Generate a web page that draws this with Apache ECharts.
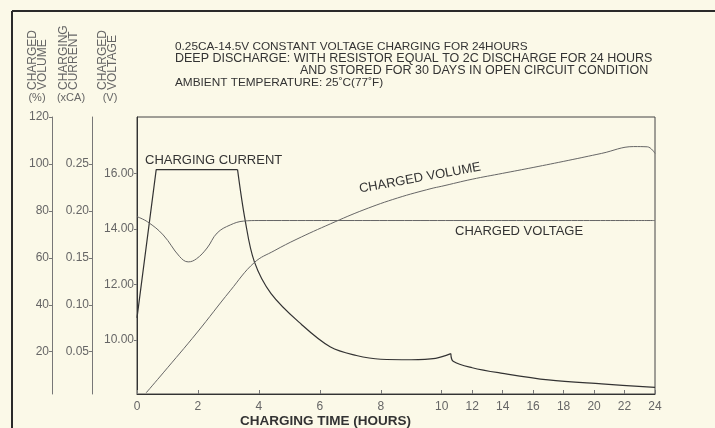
<!DOCTYPE html>
<html><head><meta charset="utf-8">
<script src="https://cdn.jsdelivr.net/npm/echarts@6/dist/echarts.min.js"></script>
<style>html,body{margin:0;padding:0;background:#fbf9e8}#c{width:715px;height:428px}</style>
</head><body><div id="c"></div>
<script>
// ---- data (hours on x) ----
const xTickHours = [0, 2, 4, 6, 8, 10, 12, 14, 16, 18, 20, 22, 24];
const voltageTicks = [10, 12, 14, 16];
const currentTicks = [0.05, 0.10, 0.15, 0.20, 0.25];
const volumeTicks = [20, 40, 60, 80, 100, 120];

const currentHours  = [0, 0.63, 3.3, 3.55, 3.85, 4.4, 5.4, 6.35, 7.2, 8.0, 9.0, 9.8, 10.6, 10.75, 12, 14, 17, 20.5, 24];
const currentValues = [0.086, 0.244, 0.244, 0.19, 0.146, 0.112, 0.079, 0.055, 0.046, 0.042, 0.0415, 0.043, 0.048, 0.040, 0.033, 0.027, 0.020, 0.0157, 0.012];

const voltageHours  = [0, 0.35, 0.86, 1.4, 1.68, 1.95, 2.3, 2.63, 3.06, 3.5, 4.0, 24];
const voltageValues = [14.44, 14.25, 13.78, 13.0, 12.81, 12.92, 13.31, 13.85, 14.14, 14.28, 14.3, 14.3];

const volumeHours  = [0.3, 0.86, 1.96, 3.06, 3.85, 4.5, 5.25, 6.35, 7.45, 8.55, 9.65, 10, 12, 14, 16, 18.3, 20.5, 22.6, 23.5, 24];
const volumeValues = [2.5, 11, 28, 46, 58, 63, 68, 74.5, 80.5, 85.5, 89.5, 90.5, 93.5, 96, 98.5, 101.5, 104.5, 107.4, 107.3, 104.5];

// the time axis is drawn at half scale after 10 hours
function toPos(h) { return h <= 10 ? h : 10 + (h - 10) / 2; }
function toHours(p) { return p <= 10 ? p : 10 + (p - 10) * 2; }
function pts(hs, vs) { return hs.map((h, i) => [toPos(h), vs[i]]); }

const FONT = "'Liberation Sans',Arial,sans-serif";
const INK = '#333333', GREY = '#666666';

const chart = echarts.init(document.getElementById('c'), null, {renderer: 'canvas'});
const curPts = pts(currentHours, currentValues);

function yAx(min, max, ticks, offset, fmt) {
  return {
    type: 'value', position: 'left', offset: offset, min: min, max: max,
    axisLine: {show: true, lineStyle: {color: offset === 0 ? '#333' : '#777', width: 1}},
    axisTick: {show: true, length: 3, customValues: ticks, lineStyle: {color: '#777'}},
    axisLabel: {customValues: ticks, formatter: fmt, color: GREY, fontSize: 12, fontFamily: FONT, margin: 3},
    splitLine: {show: false}
  };
}
function rot(text, x, y) {
  return {type: 'text', x: x, y: y, rotation: Math.PI / 2,
          style: {text: text, font: '12px ' + FONT, fill: GREY, verticalAlign: 'middle'}};
}
function plain(text, x, y, size, opts) {
  return Object.assign({type: 'text', x: x, y: y,
          style: Object.assign({text: text, font: size + 'px ' + FONT, fill: INK, verticalAlign: 'middle'}, opts || {})});
}

chart.setOption({
  backgroundColor: '#fbf9e8',
  animation: false,
  grid: {left: 137, top: 117, right: 60, bottom: 34, show: true, borderColor: '#444', borderWidth: 1},
  xAxis: {
    type: 'value', min: 0, max: toPos(24),
    axisLine: {show: true, lineStyle: {color: '#333'}},
    axisTick: {show: true, inside: true, length: 4, customValues: xTickHours.map(toPos), lineStyle: {color: '#777'}},
    axisLabel: {customValues: xTickHours.map(toPos), formatter: v => String(Math.round(toHours(v))),
                color: GREY, fontSize: 12, fontFamily: FONT, margin: 7},
    splitLine: {show: false}
  },
  yAxis: [
    yAx(8.05, 18.03, voltageTicks, 0, v => v.toFixed(2)),
    yAx(0.005, 0.3, currentTicks, 45, v => v.toFixed(2)),
    yAx(2, 120, volumeTicks, 85, v => String(v))
  ],
  series: [
    {name: 'current rise', type: 'line', yAxisIndex: 1, data: curPts.slice(0, 3), showSymbol: false,
     lineStyle: {color: '#333', width: 1.2}},
    {name: 'current decay', type: 'line', yAxisIndex: 1, data: curPts.slice(2, 13), smooth: 0.35, showSymbol: false,
     lineStyle: {color: '#333', width: 1.2}},
    {name: 'current tail', type: 'line', yAxisIndex: 1, data: curPts.slice(12), smooth: 0.35, showSymbol: false,
     lineStyle: {color: '#333', width: 1.2}},
    {name: 'voltage', type: 'line', yAxisIndex: 0, data: pts(voltageHours, voltageValues), smooth: 0.4, showSymbol: false,
     lineStyle: {color: '#666', width: 1}},
    {name: 'volume', type: 'line', yAxisIndex: 2, data: pts(volumeHours, volumeValues), smooth: 0.4, showSymbol: false,
     lineStyle: {color: '#666', width: 1}}
  ],
  graphic: [
    {type: 'line', shape: {x1: 12, y1: 11, x2: 715, y2: 11}, style: {stroke: '#2a2a2a', lineWidth: 2}},
    {type: 'line', shape: {x1: 12, y1: 11, x2: 12, y2: 428}, style: {stroke: '#2a2a2a', lineWidth: 2}},
    plain('0.25CA-14.5V CONSTANT VOLTAGE CHARGING FOR 24HOURS', 175, 47, 11.8),
    plain('DEEP DISCHARGE: WITH RESISTOR EQUAL TO 2C DISCHARGE FOR 24 HOURS', 175, 59, 12.5),
    plain('AND STORED FOR 30 DAYS IN OPEN CIRCUIT CONDITION', 300, 71, 12.5),
    plain('AMBIENT TEMPERATURE: 25˚C(77˚F)', 175, 83, 11.8),
    // rotated axis titles
    rot('CHARGED', 33, 90), rot('VOLUME', 43, 90),
    plain('(%)', 37, 98, 11, {fill: GREY, align: 'center'}),
    rot('CHARGING', 64, 90), rot('CURRENT', 74, 90),
    plain('(xCA)', 71, 98, 11, {fill: GREY, align: 'center'}),
    rot('CHARGED', 103, 90), rot('VOLTAGE', 113, 90),
    plain('(V)', 110, 98, 11, {fill: GREY, align: 'center'}),
    // x axis title
    plain('CHARGING TIME (HOURS)', 240, 421, 13.5, {font: 'bold 13.5px ' + FONT}),
    // curve labels
    plain('CHARGING CURRENT', 145, 160, 13),
    plain('CHARGED VOLTAGE', 455, 231, 13),
    {type: 'text', x: 420, y: 178, rotation: 0.18,
     style: {text: 'CHARGED VOLUME', font: '13px ' + FONT, fill: INK, align: 'center', verticalAlign: 'middle'}}
  ]
});
</script></body></html>
